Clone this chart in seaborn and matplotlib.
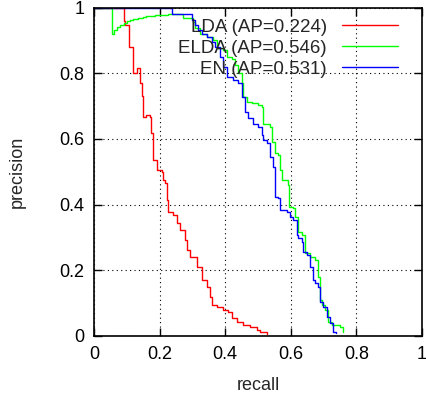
import pandas as pd
import seaborn as sns
import matplotlib.pyplot as plt

# precision / recall points
lda_recall = [0.0, 0.092, 0.092, 0.095, 0.108, 0.118, 0.13, 0.14, 0.145, 0.148, 0.16, 0.171,
              0.174, 0.18, 0.181, 0.193, 0.206, 0.211, 0.216, 0.222, 0.227, 0.242, 0.252,
              0.262, 0.277, 0.283, 0.293, 0.313, 0.328, 0.344, 0.354, 0.359, 0.374, 0.394,
              0.409, 0.42, 0.435, 0.455, 0.476, 0.496, 0.506, 0.526]
lda_precision = [1.0, 1.0, 0.96, 0.947, 0.88, 0.80, 0.815, 0.77, 0.73, 0.668, 0.672, 0.668,
                 0.617, 0.612, 0.536, 0.505, 0.50, 0.475, 0.465, 0.414, 0.378, 0.368, 0.343,
                 0.323, 0.292, 0.262, 0.241, 0.211, 0.170, 0.150, 0.120, 0.094, 0.089, 0.079,
                 0.074, 0.054, 0.044, 0.033, 0.028, 0.018, 0.011, 0.006]

elda_recall = [0.0, 0.054, 0.054, 0.06, 0.069, 0.08, 0.09, 0.1, 0.11, 0.12, 0.135, 0.15, 0.16,
               0.172, 0.185, 0.2, 0.211, 0.225, 0.24, 0.272, 0.272, 0.293, 0.303, 0.308, 0.323,
               0.344, 0.364, 0.374, 0.394, 0.405, 0.42, 0.43, 0.44, 0.45, 0.455, 0.465, 0.481,
               0.501, 0.511, 0.516, 0.537, 0.542, 0.552, 0.562, 0.567, 0.572, 0.592, 0.595,
               0.608, 0.613, 0.623, 0.633, 0.643, 0.643, 0.659, 0.674, 0.684, 0.689, 0.694,
               0.704, 0.714, 0.725, 0.75, 0.758]
elda_precision = [1.0, 1.0, 0.92, 0.932, 0.942, 0.948, 0.953, 0.958, 0.962, 0.965, 0.969, 0.972,
                  0.974, 0.975, 0.977, 0.977, 0.978, 0.979, 0.98, 0.98, 0.967, 0.967, 0.957,
                  0.937, 0.921, 0.912, 0.901, 0.876, 0.871, 0.85, 0.845, 0.825, 0.80, 0.769,
                  0.728, 0.713, 0.708, 0.703, 0.698, 0.647, 0.637, 0.592, 0.556, 0.551, 0.505,
                  0.475, 0.46, 0.394, 0.389, 0.363, 0.317, 0.307, 0.292, 0.252, 0.241, 0.231,
                  0.181, 0.11, 0.094, 0.079, 0.044, 0.033, 0.028, 0.013]

en_recall = [0.0, 0.237, 0.237, 0.293, 0.298, 0.308, 0.318, 0.328, 0.344, 0.359, 0.369, 0.384,
             0.394, 0.405, 0.425, 0.44, 0.45, 0.46, 0.47, 0.486, 0.501, 0.511, 0.516, 0.527,
             0.537, 0.547, 0.552, 0.562, 0.567, 0.587, 0.598, 0.608, 0.618, 0.623, 0.633,
             0.638, 0.649, 0.659, 0.667, 0.674, 0.684, 0.689, 0.699, 0.709, 0.72, 0.73, 0.738]
en_precision = [1.0, 1.0, 0.982, 0.98, 0.962, 0.947, 0.931, 0.921, 0.911, 0.896, 0.88, 0.85,
                0.82, 0.79, 0.779, 0.769, 0.728, 0.683, 0.663, 0.647, 0.637, 0.612, 0.597, 0.587,
                0.546, 0.515, 0.424, 0.419, 0.384, 0.378, 0.363, 0.353, 0.307, 0.297, 0.287,
                0.257, 0.247, 0.211, 0.170, 0.160, 0.150, 0.104, 0.089, 0.059, 0.039, 0.013, 0.008]

labels = ["LDA (AP=0.224)", "ELDA (AP=0.546)", "EN (AP=0.531)"]
colors = ["#ff0000", "#00ff00", "#0000ff"]
ticks = [0, 0.2, 0.4, 0.6, 0.8, 1]
tick_labels = ["0", "0.2", "0.4", "0.6", "0.8", "1"]

df = pd.concat([
    pd.DataFrame({"recall": lda_recall, "precision": lda_precision, "method": labels[0]}),
    pd.DataFrame({"recall": elda_recall, "precision": elda_precision, "method": labels[1]}),
    pd.DataFrame({"recall": en_recall, "precision": en_precision, "method": labels[2]}),
])

sns.set_theme(style="ticks")
plt.rcParams["font.family"] = ["Liberation Sans", "DejaVu Sans"]

fig = plt.figure(figsize=(4.27, 3.98), dpi=100)
ax = fig.add_axes([0.2201, 0.1558, 0.7682, 0.8251])

sns.lineplot(data=df, x="recall", y="precision", hue="method", palette=colors,
             estimator=None, sort=False, linewidth=1.0, drawstyle="steps-post", ax=ax)

ax.set_xlim(0, 1)
ax.set_ylim(0, 1)
ax.set_xticks(ticks)
ax.set_xticklabels(tick_labels)
ax.set_yticks(ticks)
ax.set_yticklabels(tick_labels)
ax.grid(True, color="black", linestyle=(0, (1, 3)), linewidth=0.8)
ax.tick_params(direction="in", length=6, width=1, top=True, right=True,
               labelsize=13, colors="black", pad=7)
for s in ax.spines.values():
    s.set_visible(True)
    s.set_color("black")
    s.set_linewidth(1.2)
ax.set_xlabel("recall", fontsize=13, labelpad=10)
ax.set_ylabel("precision", fontsize=13, labelpad=24)

ax.legend(loc="upper right", frameon=False, markerfirst=False, fontsize=13.5,
          handlelength=3.0, labelspacing=0.2, borderaxespad=0.2,
          bbox_to_anchor=(0.962, 1.0), handletextpad=0.8)

fig.savefig("out.png", dpi=100)
